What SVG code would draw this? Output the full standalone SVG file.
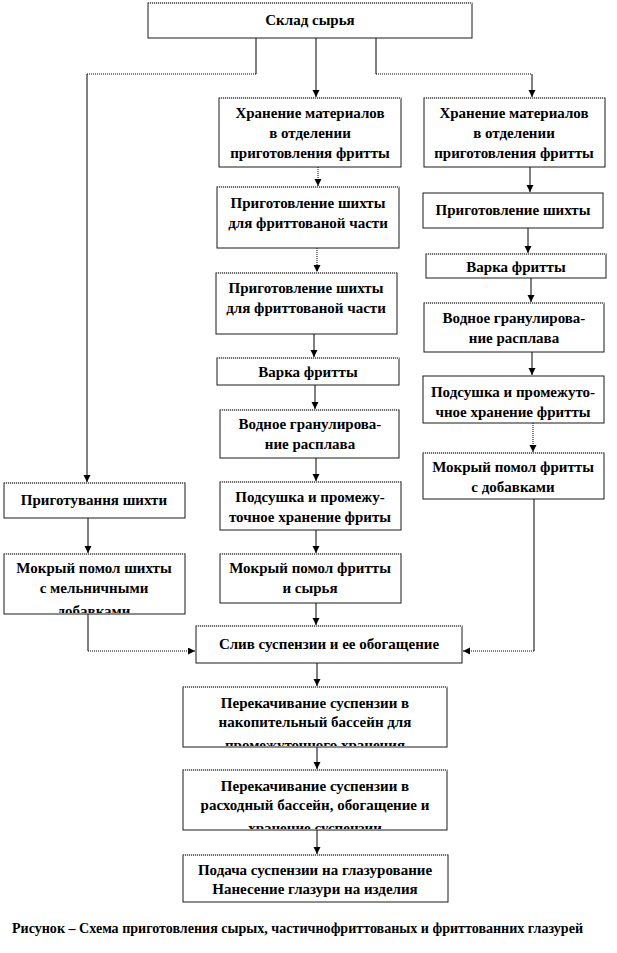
<svg xmlns="http://www.w3.org/2000/svg" width="617" height="953" viewBox="0 0 617 953" font-family="'Liberation Serif', 'Times New Roman', 'DejaVu Serif', serif">
<style>
.b{fill:#fff;stroke:#1a1a1a;stroke-width:1}
.tp{stroke:#fff;stroke-width:1.4}
.td{stroke:#000;stroke-width:1;stroke-dasharray:1 1}
text{font-family:'Liberation Serif','Times New Roman','DejaVu Serif',serif}
.t{font-weight:bold;font-size:15px;fill:#000;text-anchor:middle}
.c{stroke:#000;stroke-width:1;fill:none}
.d{stroke:#000;stroke-width:1;fill:none;stroke-dasharray:1 1}
.cap{font-weight:bold;font-size:14px;fill:#000}
</style>
<defs>
<marker id="ah" markerUnits="userSpaceOnUse" markerWidth="8" markerHeight="8" refX="7" refY="3.5" orient="auto">
<path d="M0,0 L7,3.5 L0,7 z" fill="#000"/>
</marker>
<clipPath id="k1"><rect x="4" y="554" width="181" height="59"/></clipPath>
<clipPath id="k2"><rect x="183" y="687" width="264" height="59"/></clipPath>
<clipPath id="k3"><rect x="183" y="770" width="264" height="59"/></clipPath>
</defs>

<g id="connectors">
<line class="c" x1="256" y1="38" x2="256" y2="74"/>
<line class="d" x1="256" y1="74" x2="87" y2="74"/>
<line class="c" x1="87" y1="74" x2="87" y2="482" marker-end="url(#ah)"/>
<line class="c" x1="316" y1="38" x2="316" y2="97" marker-end="url(#ah)"/>
<line class="c" x1="376" y1="38" x2="376" y2="74"/>
<line class="d" x1="376" y1="74" x2="532" y2="74"/>
<line class="c" x1="532" y1="74" x2="532" y2="97" marker-end="url(#ah)"/>

<line class="d" x1="318" y1="167" x2="318" y2="186" marker-end="url(#ah)"/>
<line class="d" x1="317" y1="248" x2="317" y2="272" marker-end="url(#ah)"/>
<line class="c" x1="314" y1="334" x2="314" y2="357" marker-end="url(#ah)"/>
<line class="c" x1="315" y1="385" x2="315" y2="409" marker-end="url(#ah)"/>
<line class="c" x1="316" y1="458" x2="316" y2="481" marker-end="url(#ah)"/>
<line class="c" x1="316" y1="530" x2="316" y2="553" marker-end="url(#ah)"/>
<line class="c" x1="316" y1="603" x2="316" y2="625" marker-end="url(#ah)"/>

<line class="c" x1="530" y1="167" x2="530" y2="192" marker-end="url(#ah)"/>
<line class="c" x1="528" y1="228" x2="528" y2="253" marker-end="url(#ah)"/>
<line class="c" x1="531" y1="278" x2="531" y2="302" marker-end="url(#ah)"/>
<line class="c" x1="532" y1="352" x2="532" y2="375" marker-end="url(#ah)"/>
<line class="d" x1="533" y1="423" x2="533" y2="452" marker-end="url(#ah)"/>
<line class="c" x1="534" y1="499" x2="534" y2="651"/>
<line class="d" x1="534" y1="651" x2="463" y2="651" marker-end="url(#ah)"/>

<line class="c" x1="88" y1="518" x2="88" y2="553" marker-end="url(#ah)"/>
<line class="c" x1="88" y1="614" x2="88" y2="651"/>
<line class="d" x1="88" y1="651" x2="195" y2="651" marker-end="url(#ah)"/>

<line class="c" x1="317" y1="663" x2="317" y2="686" marker-end="url(#ah)"/>
<line class="c" x1="317" y1="747" x2="317" y2="769" marker-end="url(#ah)"/>
<line class="c" x1="317" y1="830" x2="317" y2="854" marker-end="url(#ah)"/>
</g>

<g id="n-sklad">
<rect class="b" x="148" y="3" width="324" height="35"/>
<line class="tp" x1="148" y1="3" x2="472" y2="3"/><line class="td" x1="148" y1="3" x2="472" y2="3"/>
<text class="t" x="310" y="25">Склад сырья</text>
</g>

<g id="n-m1">
<rect class="b" x="219" y="98" width="182" height="69"/>
<line class="tp" x1="219" y1="98" x2="401" y2="98"/><line class="td" x1="219" y1="98" x2="401" y2="98"/>
<text class="t" x="310" y="118">Хранение материалов</text>
<text class="t" x="310" y="138">в отделении</text>
<text class="t" x="310" y="158">приготовления фритты</text>
</g>

<g id="n-r1">
<rect class="b" x="424" y="98" width="181" height="69"/>
<line class="tp" x1="424" y1="98" x2="605" y2="98"/><line class="td" x1="424" y1="98" x2="605" y2="98"/>
<text class="t" x="514" y="118">Хранение материалов</text>
<text class="t" x="514" y="138">в отделении</text>
<text class="t" x="514" y="158">приготовления фритты</text>
</g>

<g id="n-m2">
<rect class="b" x="217" y="187" width="182" height="61"/>
<line class="tp" x1="217" y1="187" x2="399" y2="187"/><line class="td" x1="217" y1="187" x2="399" y2="187"/>
<text class="t" x="308" y="208">Приготовление шихты</text>
<text class="t" x="308" y="228">для фриттованой части</text>
</g>

<g id="n-m3">
<rect class="b" x="216" y="273" width="181" height="61"/>
<line class="tp" x1="216" y1="273" x2="397" y2="273"/><line class="td" x1="216" y1="273" x2="397" y2="273"/>
<text class="t" x="306" y="293">Приготовление шихты</text>
<text class="t" x="306" y="313">для фриттованой части</text>
</g>

<g id="n-m4">
<rect class="b" x="217" y="358" width="182" height="27"/>
<line class="tp" x1="217" y1="358" x2="399" y2="358"/><line class="td" x1="217" y1="358" x2="399" y2="358"/>
<text class="t" x="308" y="377">Варка фритты</text>
</g>

<g id="n-m5">
<rect class="b" x="220" y="410" width="179" height="48"/>
<line class="tp" x1="220" y1="410" x2="399" y2="410"/><line class="td" x1="220" y1="410" x2="399" y2="410"/>
<text class="t" x="310" y="429">Водное гранулирова-</text>
<text class="t" x="310" y="449">ние расплава</text>
</g>

<g id="n-m6">
<rect class="b" x="220" y="482" width="181" height="48"/>
<line class="tp" x1="220" y1="482" x2="401" y2="482"/><line class="td" x1="220" y1="482" x2="401" y2="482"/>
<text class="t" x="310" y="502">Подсушка и  промежу-</text>
<text class="t" x="310" y="522">точное хранение фриты</text>
</g>

<g id="n-m7">
<rect class="b" x="220" y="554" width="181" height="49"/>
<line class="tp" x1="220" y1="554" x2="401" y2="554"/><line class="td" x1="220" y1="554" x2="401" y2="554"/>
<text class="t" x="310" y="573">Мокрый помол фритты</text>
<text class="t" x="310" y="593">и сырья</text>
</g>

<g id="n-r2">
<rect class="b" x="423" y="193" width="180" height="35"/>
<text class="t" x="513" y="215">Приготовление шихты</text>
</g>

<g id="n-r3">
<rect class="b" x="426" y="254" width="180" height="24"/>
<line class="tp" x1="426" y1="254" x2="606" y2="254"/><line class="td" x1="426" y1="254" x2="606" y2="254"/>
<text class="t" x="516" y="272">Варка фритты</text>
</g>

<g id="n-r4">
<rect class="b" x="424" y="303" width="180" height="49"/>
<line class="tp" x1="424" y1="303" x2="604" y2="303"/><line class="td" x1="424" y1="303" x2="604" y2="303"/>
<text class="t" x="514" y="323">Водное гранулирова-</text>
<text class="t" x="514" y="343">ние расплава</text>
</g>

<g id="n-r5">
<rect class="b" x="423" y="376" width="181" height="47"/>
<text class="t" x="513" y="397">Подсушка и  промежуто-</text>
<text class="t" x="513" y="417">чное хранение фритты</text>
</g>

<g id="n-r6">
<rect class="b" x="423" y="453" width="181" height="46"/>
<line class="tp" x1="423" y1="453" x2="604" y2="453"/><line class="td" x1="423" y1="453" x2="604" y2="453"/>
<text class="t" x="513" y="472">Мокрый помол фритты</text>
<text class="t" x="513" y="492">с добавками</text>
</g>

<g id="n-l1">
<rect class="b" x="4" y="483" width="181" height="35"/>
<line class="tp" x1="4" y1="483" x2="185" y2="483"/><line class="td" x1="4" y1="483" x2="185" y2="483"/>
<text class="t" x="94" y="505">Приготування шихти</text>
</g>

<g id="n-l2">
<rect class="b" x="4" y="554" width="181" height="60"/>
<line class="tp" x1="4" y1="554" x2="185" y2="554"/><line class="td" x1="4" y1="554" x2="185" y2="554"/>
<text class="t" x="94" y="573">Мокрый помол шихты</text>
<text class="t" x="94" y="593">с мельничными</text>
<text class="t" x="94" y="616" clip-path="url(#k1)">добавками</text>
</g>

<g id="n-sliv">
<rect class="b" x="196" y="626" width="266" height="37"/>
<line class="tp" x1="196" y1="626" x2="462" y2="626"/><line class="td" x1="196" y1="626" x2="462" y2="626"/>
<text class="t" x="329" y="649">Слив суспензии и ее обогащение</text>
</g>

<g id="n-p1">
<rect class="b" x="183" y="687" width="264" height="60"/>
<line class="tp" x1="183" y1="687" x2="447" y2="687"/><line class="td" x1="183" y1="687" x2="447" y2="687"/>
<text class="t" x="315" y="708">Перекачивание суспензии в</text>
<text class="t" x="315" y="727">накопительный бассейн для</text>
<text class="t" x="315" y="750" clip-path="url(#k2)">промежуточного хранения</text>
</g>

<g id="n-p2">
<rect class="b" x="183" y="770" width="264" height="60"/>
<line class="tp" x1="183" y1="770" x2="447" y2="770"/><line class="td" x1="183" y1="770" x2="447" y2="770"/>
<text class="t" x="315" y="791">Перекачивание суспензии в</text>
<text class="t" x="315" y="810">расходный бассейн, обогащение и</text>
<text class="t" x="315" y="833" clip-path="url(#k3)">хранение суспензии</text>
</g>

<g id="n-p3">
<rect class="b" x="183" y="855" width="265" height="47"/>
<line class="tp" x1="183" y1="855" x2="448" y2="855"/><line class="td" x1="183" y1="855" x2="448" y2="855"/>
<text class="t" x="315" y="875">Подача суспензии на глазурование</text>
<text class="t" x="315" y="894">Нанесение глазури на изделия</text>
</g>

<text class="cap" x="12" y="933" textLength="571" lengthAdjust="spacingAndGlyphs">Рисунок  – Схема приготовления  сырых, частичнофриттованых и фриттованних  глазурей</text>
</svg>
